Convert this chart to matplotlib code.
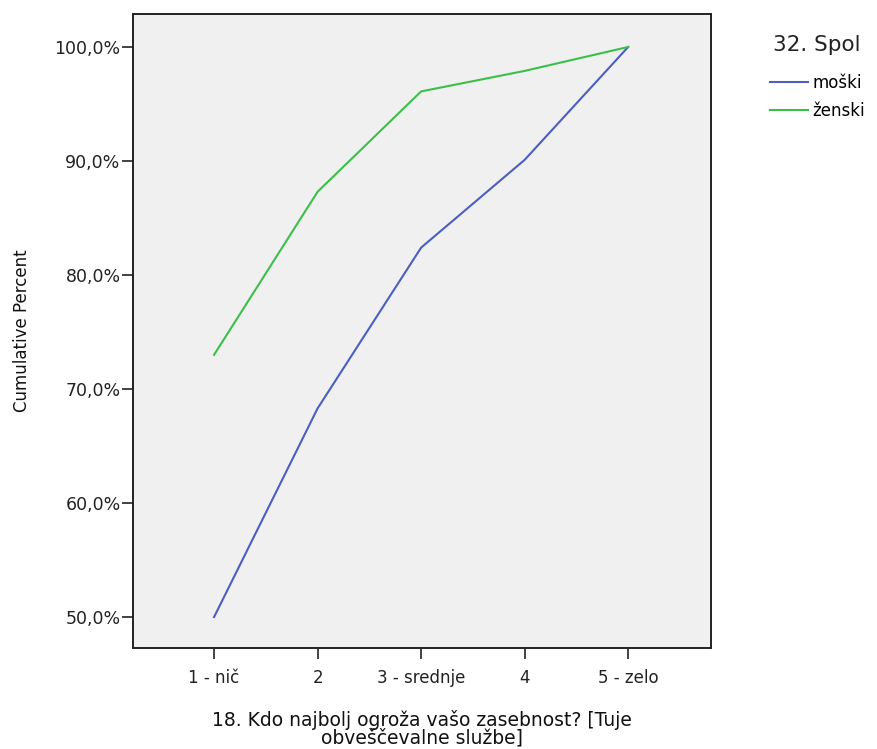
import matplotlib.pyplot as plt
from matplotlib.ticker import FuncFormatter

plt.rcParams['font.family'] = ['DejaVu Sans']

categories = ["1 - nič", "2", "3 - srednje", "4", "5 - zelo"]
x_vals = [1, 2, 3, 4, 5]
moski = [50.0, 68.3, 82.4, 90.1, 100.0]
zenski = [73.0, 87.3, 96.1, 97.9, 100.0]
series_names = ["moški", "ženski"]

fig = plt.figure(figsize=(8.78, 7.49), dpi=100)
ax = fig.add_axes([0.1515, 0.1348, 0.6583, 0.8465])
ax.set_facecolor('#f0f0f0')

ax.plot(x_vals, moski, color='#4a5fc1', lw=1.5, label=series_names[0])
ax.plot(x_vals, zenski, color='#3cbf4a', lw=1.5, label=series_names[1])

ax.set_xlim(0.217, 5.80)
ax.set_ylim(47.28, 102.89)
ax.set_xticks(x_vals)
ax.set_xticklabels(categories, fontsize=12)
ax.set_yticks([50, 60, 70, 80, 90, 100])
ax.yaxis.set_major_formatter(FuncFormatter(lambda v, p: f"{v:.1f}%".replace('.', ',')))
ax.tick_params(axis='y', labelsize=12.5, length=8, width=1.2, pad=1,
               direction='out', colors='#222222')
ax.tick_params(axis='x', length=8, width=1.2, pad=7, direction='out', colors='#222222')
for s in ax.spines.values():
    s.set_linewidth(1.4)
    s.set_color('#222222')

fig.text(22 / 878, 1 - 331 / 749, "Cumulative Percent", rotation=90,
         ha='center', va='center', fontsize=12, color='#111111')
fig.text(422 / 878, 1 - 729 / 749,
         "18. Kdo najbolj ogroža vašo zasebnost? [Tuje\nobveščevalne službe]",
         ha='center', va='center', fontsize=13.5, linespacing=0.88, color='#111111')

fig.text(773 / 878, 1 - 45 / 749, "32. Spol", ha='left', va='center',
         fontsize=15.5, color='#222222')
fig.legend(loc='upper left', bbox_to_anchor=(770 / 878, 1 - 74 / 749),
           frameon=False, fontsize=12, borderpad=0, borderaxespad=0,
           handlelength=2.3, handletextpad=0.25, labelspacing=0.58)

fig.savefig("out.png", dpi=100, facecolor='white')
